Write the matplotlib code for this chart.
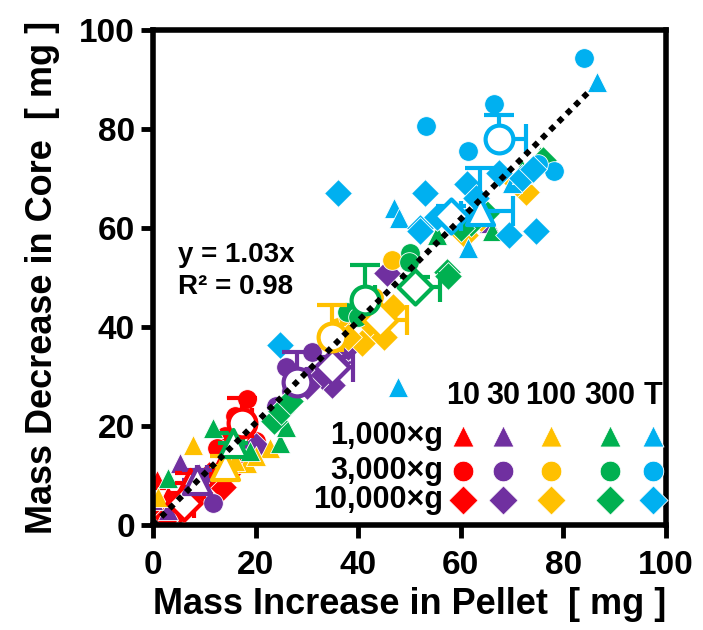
import matplotlib
matplotlib.use('Agg')
import matplotlib.pyplot as plt

plt.rcParams['font.family'] = ['Liberation Sans', 'DejaVu Sans']
plt.rcParams['font.weight'] = 'bold'

# Warna per suhu, marker per gaya sentrifugal
TEMPS = ['10', '30', '100', '300', 'T']
COLORS = ['#FF0000', '#7030A0', '#FFC000', '#00B050', '#00B0F0']
G_LABELS = ['1,000\u00d7g', '3,000\u00d7g', '10,000\u00d7g']
MARKERS = ['^', 'o', 'D']

# Titik data (x = pellet, y = core), urutan: [segitiga, lingkaran, belah ketupat]
red_x = [[0.8, 3.0, 10.0, 13.0, 15.5, 1.5], [18.3, 16.0, 14.0, 20.0, 12.5, 15.0], [2.7, 5.3, 9.2, 13.6, 11.0, 7.0, 16.0]]
red_y = [[9.0, 6.0, 7.0, 12.5, 15.0, 4.0], [25.5, 22.0, 18.0, 17.0, 15.5, 13.0], [1.6, 3.0, 6.5, 7.7, 10.0, 4.5, 12.0]]

purple_x = [[0.0, 5.3, 9.0, 3.0, 65.5], [11.7, 27.0, 30.0, 26.0, 31.0, 24.0], [34.9, 33.0, 36.0, 38.0, 45.6, 30.0, 20.0]]
purple_y = [[5.0, 12.5, 10.5, 3.0, 61.0], [4.4, 27.0, 30.0, 32.0, 35.0, 24.0], [28.3, 30.0, 33.0, 36.0, 50.9, 28.0, 16.0]]

yellow_x = [[1.0, 7.8, 18.3, 22.8, 20.0, 16.0], [46.6, 36.0, 38.0, 40.0, 43.0], [40.7, 46.8, 38.0, 43.0, 60.8, 72.7, 71.0, 64.0, 45.0]]
yellow_y = [[5.7, 16.2, 12.5, 15.6, 14.0, 13.0], [53.5, 40.0, 42.0, 44.0, 46.0], [36.8, 44.0, 38.0, 40.0, 58.6, 67.3, 69.0, 62.0, 38.0]]

green_x = [[2.9, 11.7, 24.8, 26.0, 55.4, 66.1, 75.4, 72.0, 19.0], [50.1, 49.9, 37.8, 40.0, 42.0, 58.0], [23.5, 25.0, 26.7, 57.3, 57.5, 76.0, 62.0, 65.0, 60.0]]
green_y = [[9.5, 19.6, 16.6, 19.8, 58.6, 59.4, 74.5, 72.0, 15.0], [54.9, 53.1, 43.0, 42.0, 44.0, 62.0], [21.0, 23.0, 25.0, 51.1, 50.3, 73.7, 61.0, 63.0, 60.0]]

blue_x = [[86.5, 47.8, 47.0, 61.4, 48.0, 70.0, 72.0], [84.0, 66.5, 53.2, 61.4, 78.2, 75.0], [24.8, 36.1, 53.0, 52.0, 55.4, 61.2, 67.4, 72.0, 74.0, 69.4, 74.7, 52.0, 63.0]]
blue_y = [[89.5, 27.9, 64.0, 56.0, 62.0, 69.0, 71.0], [94.3, 85.0, 80.6, 75.6, 71.5, 73.0], [36.4, 67.1, 67.1, 60.0, 62.2, 68.9, 71.1, 70.0, 72.0, 58.6, 59.4, 59.4, 66.0]]

ALL_X = [red_x, purple_x, yellow_x, green_x, blue_x]
ALL_Y = [red_y, purple_y, yellow_y, green_y, blue_y]

# Rata-rata (marker terbuka) dan error bar (arah plus saja)
mean_x = [[7.2, 17.3, 6.0], [8.6, 28.1, 34.9], [14.0, 34.9, 44.2], [15.6, 41.3, 51.1], [63.7, 67.4, 58.1]]
mean_y = [[8.5, 20.6, 4.5], [9.1, 28.9, 31.9], [12.0, 38.0, 41.4], [16.6, 45.5, 48.1], [63.4, 78.0, 62.4]]
mean_xerr = [[2.0, 2.0, 2.0], [2.0, 2.0, 4.0], [2.0, 2.0, 5.3], [2.0, 2.0, 4.9], [6.5, 5.3, 2.0]]
mean_yerr = [[2.0, 5.0, 2.0], [2.0, 6.0, 2.0], [2.0, 6.4, 2.0], [2.0, 7.0, 2.0], [8.7, 4.8, 2.0]]

FIT_SLOPE = 1.03
FIT_XMAX = 85.5

fig = plt.figure(figsize=(7.03, 6.30), dpi=100)
ax = fig.add_axes([0.2176, 0.1667, 0.7297, 0.7857])

FILLED_SIZE = {'^': 210, 'o': 200, 'D': 200}
OPEN_SIZE = {'^': 380, 'o': 400, 'D': 300}

# Titik individual
for ci, color in enumerate(COLORS):
    for gi, mk in enumerate(MARKERS):
        ax.scatter(ALL_X[ci][gi], ALL_Y[ci][gi], marker=mk, s=FILLED_SIZE[mk], color=color,
                   edgecolors='white', linewidths=0.6, zorder=2)

# Rata-rata dengan error bar
for ci, color in enumerate(COLORS):
    for gi, mk in enumerate(MARKERS):
        mx, my = mean_x[ci][gi], mean_y[ci][gi]
        ax.errorbar([mx], [my], xerr=[[0], [mean_xerr[ci][gi]]], yerr=[[0], [mean_yerr[ci][gi]]],
                    fmt='none', ecolor=color, elinewidth=3, capsize=11, capthick=3, zorder=3)
        ax.scatter([mx], [my], marker=mk, s=OPEN_SIZE[mk], facecolors='white', edgecolors=color,
                   linewidths=3, zorder=4)

# Garis regresi
fx = [0, FIT_XMAX]
fy = [0, FIT_SLOPE * FIT_XMAX]
ax.plot(fx, fy, color='black', lw=4.2, linestyle=(0, (1, 1)), dash_capstyle='butt', zorder=5)

ax.text(4.8, 54.5, 'y = 1.03x', fontsize=20, fontweight='bold', va='center', ha='left', zorder=6)
ax.text(4.8, 48.0, 'R\u00b2 = 0.98', fontsize=20, fontweight='bold', va='center', ha='left', zorder=6)

# Legenda manual
col_x = [0.604, 0.682, 0.776, 0.891, 0.975]
row_y = [0.180, 0.109, 0.051]
for ci, t in enumerate(TEMPS):
    ax.text(col_x[ci], 0.26, t, transform=ax.transAxes, fontsize=22, fontweight='bold',
            ha='center', va='center', zorder=7)
for gi, lab in enumerate(G_LABELS):
    ax.text(0.565, row_y[gi], lab, transform=ax.transAxes, fontsize=22, fontweight='bold',
            ha='right', va='center', zorder=7)
    for ci, color in enumerate(COLORS):
        mk = MARKERS[gi]
        ax.scatter([col_x[ci]], [row_y[gi]], marker=mk, s=FILLED_SIZE[mk] + 20, color=color,
                   edgecolors='white', linewidths=0.6, transform=ax.transAxes, zorder=7,
                   clip_on=False)

ax.set_xlim(0, 100)
ax.set_ylim(0, 100)
ax.set_xticks([0, 20, 40, 60, 80, 100])
ax.set_yticks([0, 20, 40, 60, 80, 100])
ax.tick_params(direction='out', length=9, width=3.5, labelsize=24)
ax.tick_params(axis='x', pad=9)
ax.tick_params(axis='y', pad=4)
for lab in ax.get_xticklabels() + ax.get_yticklabels():
    lab.set_fontweight('bold')
for sp in ax.spines.values():
    sp.set_linewidth(4)

ax.set_xlabel('Mass Increase in Pellet  [ mg ]', fontsize=26, fontweight='bold', labelpad=4)
ax.set_ylabel('Mass Decrease in Core  [ mg ]', fontsize=26, fontweight='bold', labelpad=14)

fig.savefig('out.png', dpi=100)
